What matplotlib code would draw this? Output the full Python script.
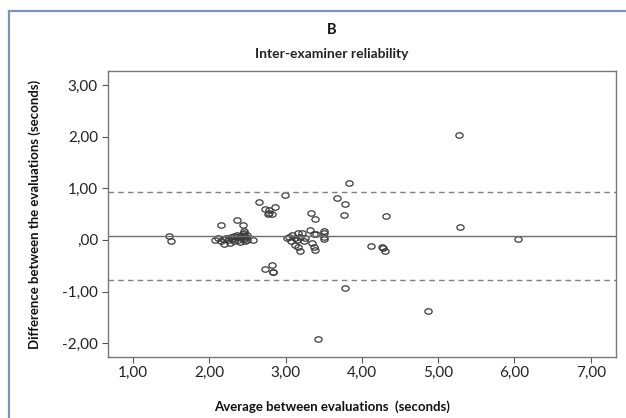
import matplotlib.pyplot as plt
from matplotlib.path import Path
from matplotlib.lines import Line2D
import numpy as np

# ================= DATA =================
avg = [1.48, 1.50,
       2.08, 2.12, 2.15, 2.18, 2.20, 2.22, 2.25, 2.27, 2.28, 2.30, 2.32, 2.33,
       2.35, 2.36, 2.38, 2.40, 2.40, 2.42, 2.44, 2.45, 2.45, 2.46, 2.46, 2.47,
       2.48, 2.50, 2.50, 2.57, 2.15, 2.36, 2.44,
       2.65, 2.99, 2.73, 2.78, 2.86, 2.79, 2.82, 2.77,
       2.73, 2.82, 2.84, 2.83,
       3.02, 3.04, 3.08, 3.12, 3.16, 3.19, 3.21, 3.15, 3.07, 3.12, 3.17, 3.19,
       3.24, 3.26,
       3.33, 3.38, 3.32, 3.37, 3.40, 3.35, 3.37, 3.38, 3.50, 3.50, 3.50, 3.50,
       3.83, 3.68, 3.78, 3.76, 4.32, 4.12, 4.26, 4.28, 4.31,
       3.78, 4.87, 3.42, 5.27, 5.29, 6.05]
diff = [0.08, -0.03,
        0.00, 0.03, -0.03, 0.02, -0.08, 0.04, 0.00, -0.06, 0.06, 0.02, 0.08, -0.02,
        0.05, 0.10, 0.00, 0.07, -0.05, 0.03, 0.12, 0.17, 0.08, 0.14, 0.02, -0.03,
        0.05, 0.10, 0.00, -0.01, 0.28, 0.39, 0.28,
        0.74, 0.87, 0.59, 0.58, 0.63, 0.53, 0.50, 0.51,
        -0.56, -0.48, -0.63, -0.63,
        0.03, 0.06, 0.10, 0.03, 0.13, 0.06, 0.13, 0.00, -0.03, -0.10, -0.14, -0.21,
        -0.03, 0.03,
        0.53, 0.40, 0.19, 0.12, 0.11, -0.06, -0.14, -0.19, 0.18, 0.13, 0.06, 0.02,
        1.10, 0.81, 0.70, 0.48, 0.46, -0.12, -0.13, -0.16, -0.21,
        -0.93, -1.37, -1.92, 2.04, 0.25, 0.01]
mean_diff = 0.08
upper_loa = 0.93
lower_loa = -0.77

x_ticks = [1, 2, 3, 4, 5, 6, 7]
y_ticks = [-2, -1, 0, 1, 2, 3]


def fmt(v):
    s = f"{v:.2f}".replace(".", ",")
    if s.startswith("0,"):
        s = s[1:]
    return s


plt.rcParams['font.family'] = ['Lato', 'DejaVu Sans']

fig = plt.figure(figsize=(6.26, 4.18), dpi=100)
ax = fig.add_axes([0.172, 0.147, 0.812, 0.683])

# ellipse marker (a bit wider than tall)
circ = Path.unit_circle()
ell = Path(circ.vertices * np.array([1.0, 0.75]), circ.codes)

ax.plot(avg, diff, linestyle="none", marker=ell, markersize=5.2,
        markerfacecolor="none", markeredgecolor="#3a3a3a", markeredgewidth=0.9)

ax.axhline(mean_diff, color="#6e6e6e", lw=1.0)
ax.axhline(upper_loa, color="#808080", lw=1.0, ls=(0, (4, 3)))
ax.axhline(lower_loa, color="#808080", lw=1.0, ls=(0, (4, 3)))

ax.set_xlim(0.67, 7.33)
ax.set_ylim(-2.26, 3.27)
ax.set_xticks(x_ticks)
ax.set_yticks(y_ticks)
ax.set_xticklabels([fmt(v) for v in x_ticks])
ax.set_yticklabels([fmt(v) for v in y_ticks])
ax.tick_params(direction="out", length=4, width=0.8, color="#555555",
               labelsize=11, labelcolor="#222222", pad=3)
for sp in ax.spines.values():
    sp.set_color("#777777")
    sp.set_linewidth(1.0)

fig.text(0.53, 0.928, "B", ha="center", va="center", fontsize=10.5,
         fontweight="bold", color="#111111")
fig.text(0.53, 0.871, "Inter-examiner reliability", ha="center", va="center",
         fontsize=10, fontweight="bold", color="#222222")
fig.text(0.056, 0.488, "Difference between the evaluations (seconds)",
         ha="center", va="center", rotation=90, fontsize=9.5,
         fontweight="bold", color="#111111")
fig.text(0.53, 0.026, "Average between evaluations  (seconds)", ha="center",
         va="center", fontsize=9.5, fontweight="bold", color="#111111")

# ================= OUTER FRAME =================
fx = 8.5 / 626
fy = 1 - 10.7 / 418
fig.add_artist(Line2D([fx, fx], [-0.01, fy], transform=fig.transFigure,
                      color="#7a96b4", lw=1.6))
fig.add_artist(Line2D([fx, 1.01], [fy, fy], transform=fig.transFigure,
                      color="#7a96b4", lw=1.6))

fig.savefig("out.png", dpi=100)
